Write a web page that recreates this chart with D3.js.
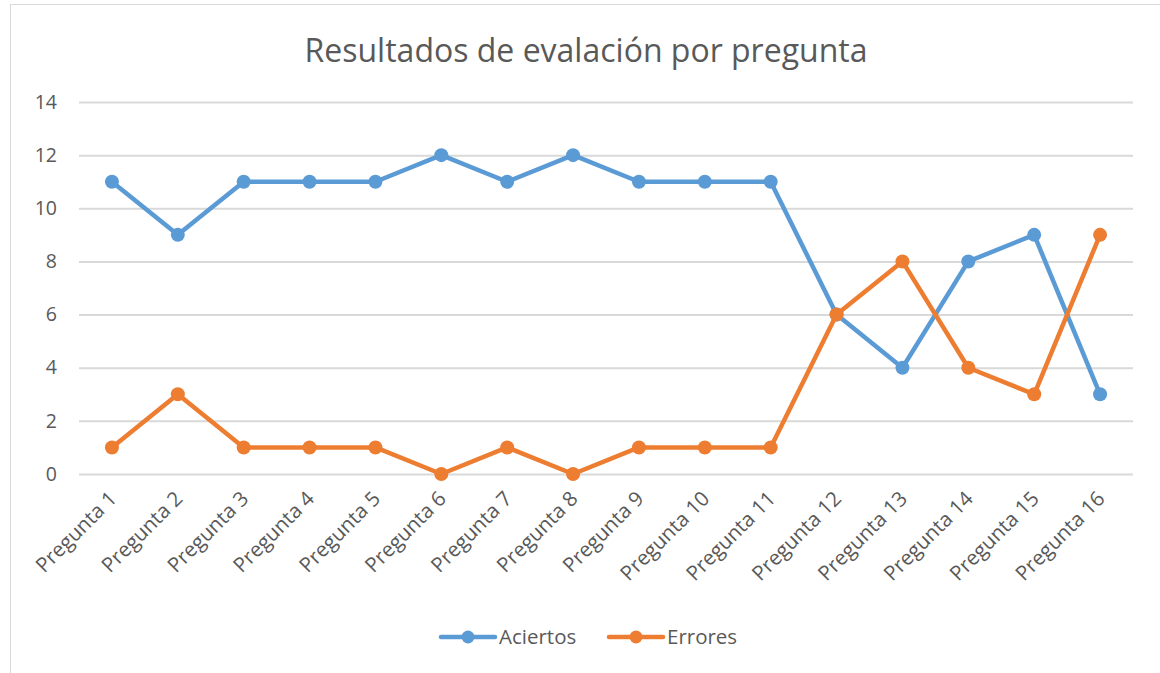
<!DOCTYPE html>
<html lang="es">
<head>
    <meta charset="UTF-8">
    <title>Resultados de evalación por pregunta</title>
    <script src="https://d3js.org/d3.v7.min.js"></script>
    <style>
        body { margin: 0; background: #fff; }
        svg { display: block; font-family: "Open Sans", sans-serif; }
    </style>
</head>
<body>
    <div id="chart"></div>
    <script>
        // Chart data
        var categories = ["Pregunta 1", "Pregunta 2", "Pregunta 3", "Pregunta 4", "Pregunta 5", "Pregunta 6",
            "Pregunta 7", "Pregunta 8", "Pregunta 9", "Pregunta 10", "Pregunta 11", "Pregunta 12",
            "Pregunta 13", "Pregunta 14", "Pregunta 15", "Pregunta 16"];
        var aciertos = [11, 9, 11, 11, 11, 12, 11, 12, 11, 11, 11, 6, 4, 8, 9, 3];
        var errores = [1, 3, 1, 1, 1, 0, 1, 0, 1, 1, 1, 6, 8, 4, 3, 9];
        var yTicks = [0, 2, 4, 6, 8, 10, 12, 14];
        var seriesNames = ["Aciertos", "Errores"];
        var seriesColors = ["#5B9BD5", "#ED7D31"];

        var width = 1160, height = 673;
        var margin = { left: 79, right: 27, top: 102, bottom: 199 };

        var svg = d3.select("#chart").append("svg")
            .attr("width", width)
            .attr("height", height);

        // chart border
        svg.append("rect")
            .attr("x", 10.5).attr("y", 4.5)
            .attr("width", width + 20).attr("height", height + 20)
            .attr("fill", "none")
            .attr("stroke", "#D9D9D9");

        var x = d3.scaleBand()
            .domain(categories)
            .range([margin.left, width - margin.right]);

        var y = d3.scaleLinear()
            .domain([0, 14])
            .range([height - margin.bottom, margin.top]);

        // title
        svg.append("text")
            .attr("x", 586).attr("y", 62)
            .attr("text-anchor", "middle")
            .attr("fill", "#595959")
            .style("font-size", "32px")
            .text("Resultados de evalación por pregunta");

        // gridlines + y labels
        var yAxis = svg.append("g")
            .attr("transform", `translate(${margin.left},0)`)
            .call(d3.axisLeft(y).tickValues(yTicks)
                .tickSize(-(width - margin.left - margin.right))
                .tickPadding(22));
        yAxis.select(".domain").remove();
        yAxis.selectAll("line").attr("stroke", "#D9D9D9").attr("stroke-width", 2);
        yAxis.selectAll("text")
            .attr("fill", "#595959")
            .style("font-size", "19.5px")
            .style("font-family", "Open Sans, sans-serif");

        // x labels
        var xAxis = svg.append("g")
            .attr("transform", `translate(0,${height - margin.bottom})`)
            .call(d3.axisBottom(x).tickSize(0).tickPadding(0));
        xAxis.select(".domain").remove();
        xAxis.selectAll("text")
            .attr("fill", "#595959")
            .style("font-size", "20.5px")
            .style("font-family", "Open Sans, sans-serif")
            .attr("text-anchor", "end")
            .attr("dy", "0")
            .attr("transform", "translate(6,26) rotate(-45)");

        var series = [aciertos, errores];
        var line = d3.line()
            .x((d, i) => x(categories[i]) + x.bandwidth() / 2)
            .y(d => y(d));

        series.forEach((vals, s) => {
            svg.append("path")
                .datum(vals)
                .attr("d", line)
                .attr("fill", "none")
                .attr("stroke", seriesColors[s])
                .attr("stroke-width", 4.5)
                .attr("stroke-linejoin", "round")
                .attr("stroke-linecap", "round");
            svg.append("g").selectAll("circle")
                .data(vals)
                .enter().append("circle")
                .attr("cx", (d, i) => x(categories[i]) + x.bandwidth() / 2)
                .attr("cy", d => y(d))
                .attr("r", 7)
                .attr("fill", seriesColors[s]);
        });

        // legend
        var legendX = [441, 609];
        seriesNames.forEach((name, s) => {
            var g = svg.append("g").attr("transform", `translate(${legendX[s]},637)`);
            g.append("line")
                .attr("x1", 0).attr("x2", 54)
                .attr("stroke", seriesColors[s])
                .attr("stroke-width", 4.5)
                .attr("stroke-linecap", "round");
            g.append("circle").attr("cx", 27).attr("r", 6.5).attr("fill", seriesColors[s]);
            g.append("text")
                .attr("x", 58).attr("y", 7)
                .attr("fill", "#595959")
                .style("font-size", "20.5px")
                .text(name);
        });
    </script>
</body>
</html>
